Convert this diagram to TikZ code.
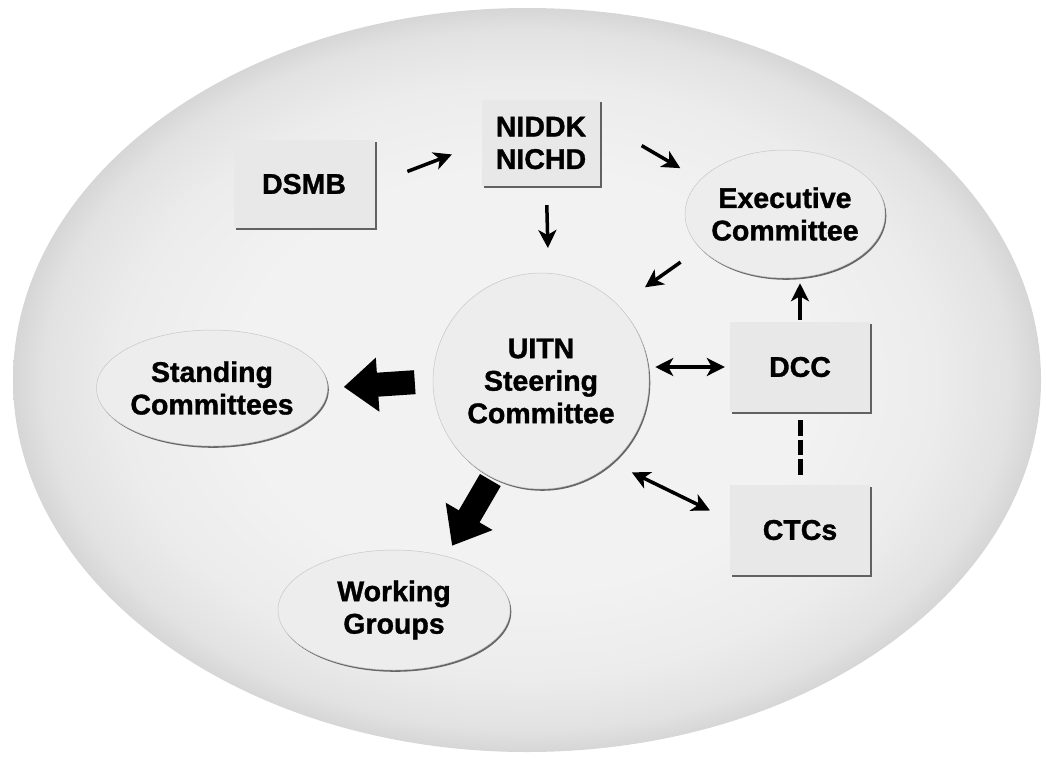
\documentclass[tikz,border=0pt]{standalone}
\usepackage{fontspec}
\setmainfont{Liberation Sans}[BoldFeatures={FakeBold=1.2}]
\usetikzlibrary{arrows.meta,calc,shapes.geometric,shadows}
\definecolor{bgin}{HTML}{F2F2F2}
\definecolor{bgmid}{HTML}{ECECEC}
\definecolor{bgedge}{HTML}{E2E2E2}
\definecolor{bgout}{HTML}{D6D6D6}
\definecolor{boxfill}{HTML}{E8E8E8}
\definecolor{ovfill}{HTML}{EDEDED}
\definecolor{ovline}{HTML}{C8C8C8}
\pgfdeclareradialshading{bgshade}{\pgfpoint{0bp}{0bp}}{color(0bp)=(bgin); color(14bp)=(bgin); color(20bp)=(bgmid); color(23.5bp)=(bgedge); color(25bp)=(bgout); color(50bp)=(bgout)}
\tikzset{
  txt/.style={font=\bfseries\fontsize{28.5}{32.5}\selectfont, align=center, text=black},
  boxnode/.style={txt, rectangle, fill=boxfill, inner sep=0pt,
    minimum width=141pt, minimum height=88pt,
    drop shadow={shadow xshift=2pt, shadow yshift=-2pt, fill=black!62, opacity=1}},
  ovalnode/.style={txt, ellipse, fill=ovfill, draw=ovline, line width=0.5pt,
    inner xsep=-7pt, inner ysep=0pt,
    drop shadow={shadow xshift=1.3pt, shadow yshift=-1.8pt, fill=black!60, opacity=1}},
  roundnode/.style={txt, circle, fill=ovfill, draw=ovline, line width=0.5pt,
    inner sep=0pt, minimum size=216pt,
    drop shadow={shadow xshift=1.3pt, shadow yshift=-1.8pt, fill=black!60, opacity=1}},
  arr/.style={draw=black, line width=3.5pt, -{Stealth[length=18pt 0 0, width=18pt 0 0, inset=5pt]}},
  darr/.style={draw=black, line width=3.5pt, {Stealth[length=18pt 0 0, width=18pt 0 0, inset=5pt]}-{Stealth[length=18pt 0 0, width=18pt 0 0, inset=5pt]}},
  bigarr/.style={draw=black, line width=24pt, -{Triangle[length=34pt 0 0, width=52pt 0 0]}},
  dashline/.style={draw=black, line width=5pt, dash pattern=on 15.5pt off 4pt}
}
\begin{document}
\begin{tikzpicture}[x=1pt,y=-1pt]
\useasboundingbox (0,0) rectangle (1050,766);
\shade[shading=bgshade] (527,380) ellipse [x radius=514, y radius=372];

\node[boxnode] (ds) at (304,184) {DSMB};
\node[boxnode, minimum width=118pt, minimum height=86pt] (nid) at (541,143) {NIDDK\\NICHD};
\node[ovalnode, minimum width=200pt, minimum height=128pt] (ex) at (785,214) {Executive\\Committee};
\node[roundnode] (ui) at (541,381) {UITN\\Steering\\Committee};
\node[boxnode, minimum width=140pt, minimum height=90pt] (dcc) at (800,367) {DCC};
\node[boxnode, minimum width=140pt, minimum height=90pt] (ctc) at (800,530) {CTCs};
\node[ovalnode, minimum width=231pt, minimum height=116pt] (sc) at (212,388) {Standing\\Committees};
\node[ovalnode, minimum width=232pt, minimum height=120pt] (wg) at (394,610) {Working\\Groups};

\draw[arr, shorten <=35pt, shorten >=32pt] (ds.east) -- (nid.west);
\draw[arr, shorten <=48pt, shorten >=23pt] (nid.20) -- (ex.158);
\draw[arr, shorten <=19pt, shorten >=25pt] (nid.-83) -- (ui.86);
\draw[arr, shorten <=24pt, shorten >=32pt] (ex.202) -- (ui.44);
\draw[arr, shorten <=2pt, shorten >=5pt] (dcc.north) -- (dcc.north |- ex.south);
\draw[darr, shorten <=6pt, shorten >=5pt] (ui.east |- dcc.west) -- (dcc.west);
\draw[darr, shorten <=22pt, shorten >=22pt] (ui.-49) -- (ctc.172);
\draw[dashline, shorten <=8pt, shorten >=10pt] (dcc.south) -- (ctc.north);
\draw[bigarr, shorten <=18pt, shorten >=16pt] (ui.west) -- (sc.east);
\draw[bigarr, shorten <=3pt, shorten >=12pt] (ui.-117) -- (wg.46);
\end{tikzpicture}
\end{document}
